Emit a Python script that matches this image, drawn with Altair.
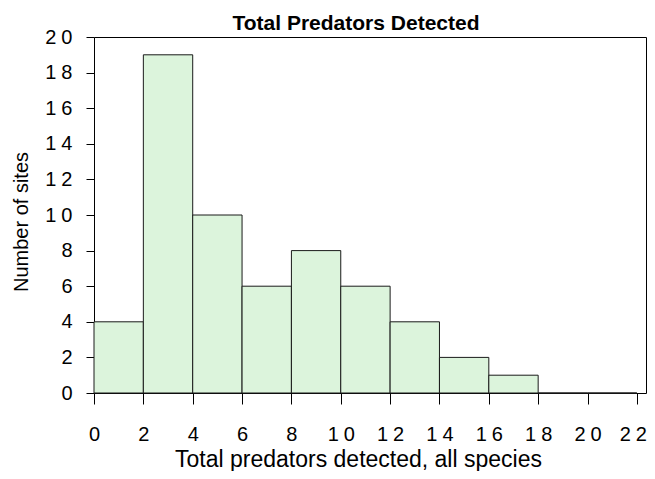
import altair as alt
import pandas as pd

bin_start = [0, 2, 4, 6, 8, 10, 12, 14, 16, 18, 20]
bin_end = [2, 4, 6, 8, 10, 12, 14, 16, 18, 20, 22]
counts = [4, 19, 10, 6, 8, 6, 4, 2, 1, 0, 0]
x_ticks = list(range(0, 23, 2))
y_ticks = list(range(0, 21, 2))

df = pd.DataFrame({"start": bin_start, "end": bin_end, "count": counts})

FONT = "Liberation Sans"
label_expr = "length(datum.label) > 1 ? join(split(datum.label, ''), '\u2005') : datum.label"

chart = alt.Chart(df).mark_bar(
    fill="#dcf4dc", stroke="#1a1a1a", strokeWidth=1, opacity=1
).encode(
    x=alt.X(
        "start:Q",
        scale=alt.Scale(domain=[0, 22.37], nice=False, zero=False),
        axis=alt.Axis(
            values=x_ticks, title="Total predators detected, all species",
            domain=False, grid=False, tickColor="black", tickSize=11, tickWidth=1,
            labelFont=FONT, labelFontSize=20, labelColor="black", labelPadding=20,
            labelExpr=label_expr, labelFlush=False, labelOverlap=False,
            labelOffset={"condition": {"test": "datum.value == 22", "value": -4}, "value": 0},
            titleFont=FONT, titleFontSize=23, titleFontWeight="normal", titleColor="black",
            titleX=264, titleY=73, titleAlign="center", titleBaseline="alphabetic",
        ),
    ),
    x2="end:Q",
    y=alt.Y(
        "count:Q",
        scale=alt.Scale(domain=[0, 20], nice=False),
        axis=alt.Axis(
            values=y_ticks, title="Number of sites",
            domain=False, grid=False, tickColor="black", tickSize=8, tickWidth=1,
            labelFont=FONT, labelFontSize=20, labelColor="black", labelPadding=14,
            labelExpr=label_expr, labelFlush=False, labelOverlap=False,
            titleFont=FONT, titleFontSize=20, titleFontWeight="normal", titleColor="black",
            titleX=-67, titleY=184.5, titleAngle=270, titleAlign="center", titleBaseline="alphabetic",
        ),
    ),
    y2=alt.datum(0),
).properties(
    width=552,
    height=356,
    autosize="none",
    padding={"left": 86, "top": 29, "right": 1, "bottom": 78},
    title=alt.TitleParams(
        text="Total Predators Detected", font=FONT, fontSize=21, fontWeight="bold",
        color="black", anchor="middle", frame="group", dx=-14, dy=26, offset=2, baseline="alphabetic",
    ),
).configure_view(stroke="black", strokeWidth=1)

chart.save("out.html", embed_options={"renderer": "svg", "actions": False})
